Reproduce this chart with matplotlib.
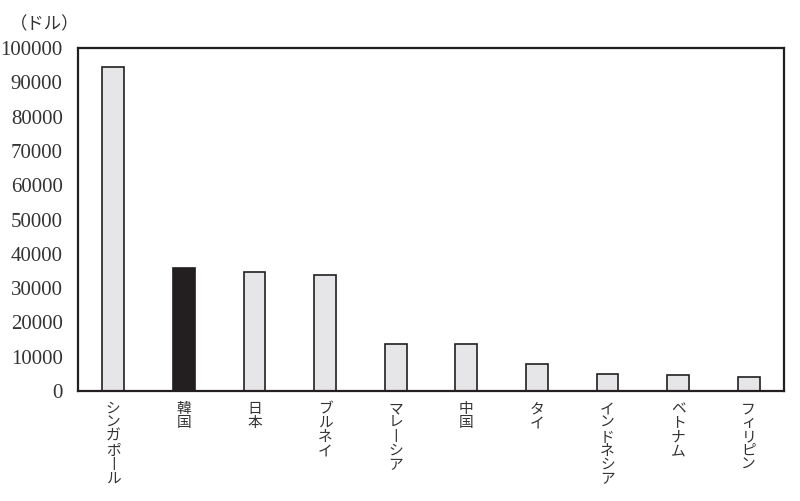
import matplotlib
matplotlib.use("Agg")
import matplotlib.pyplot as plt

countries = ["シンガポール", "韓国", "日本", "ブルネイ", "マレーシア", "中国", "タイ", "インドネシア", "ベトナム", "フィリピン"]
values = [94500, 35800, 34700, 33700, 13700, 13650, 7950, 4950, 4650, 4150]
yticks = [0, 10000, 20000, 30000, 40000, 50000, 60000, 70000, 80000, 90000, 100000]
unit_label = "（ドル）"
highlight = "韓国"

def vertical(s):
    return "\n".join("丨" if c == "ー" else c for c in s)

fig = plt.figure(figsize=(8.0, 5.01), dpi=100)
ax = fig.add_axes([0.0975, 0.2196, 0.8825, 0.6844])

dark = "#231f20"
colors = [dark if c == highlight else "#e6e6e8" for c in countries]
x = list(range(len(countries)))
ax.bar(x, values, width=0.31, color=colors, edgecolor=dark, linewidth=1.2, zorder=2)

ax.set_xlim(-0.5, len(countries) - 0.5)
ax.set_ylim(0, 100000)
ax.set_yticks(yticks)
ax.set_yticklabels([str(v) for v in yticks], family="Liberation Serif", fontsize=15, color="#333333")
ax.set_xticks(x)
ax.set_xticklabels([vertical(c) for c in countries], family=["Noto Sans CJK JP", "DejaVu Sans"],
                   fontsize=10.6, color="#333333", linespacing=1.0, va="top")
ax.tick_params(axis="both", length=0)
ax.tick_params(axis="x", pad=8)
ax.tick_params(axis="y", pad=11)
for sp in ax.spines.values():
    sp.set_linewidth(1.6)
    sp.set_color(dark)

fig.text(0.012, 0.952, unit_label, family=["Noto Sans CJK JP", "DejaVu Sans"], fontsize=12.5,
         color="#333333", ha="left", va="center")

fig.savefig("out.png", dpi=100)
